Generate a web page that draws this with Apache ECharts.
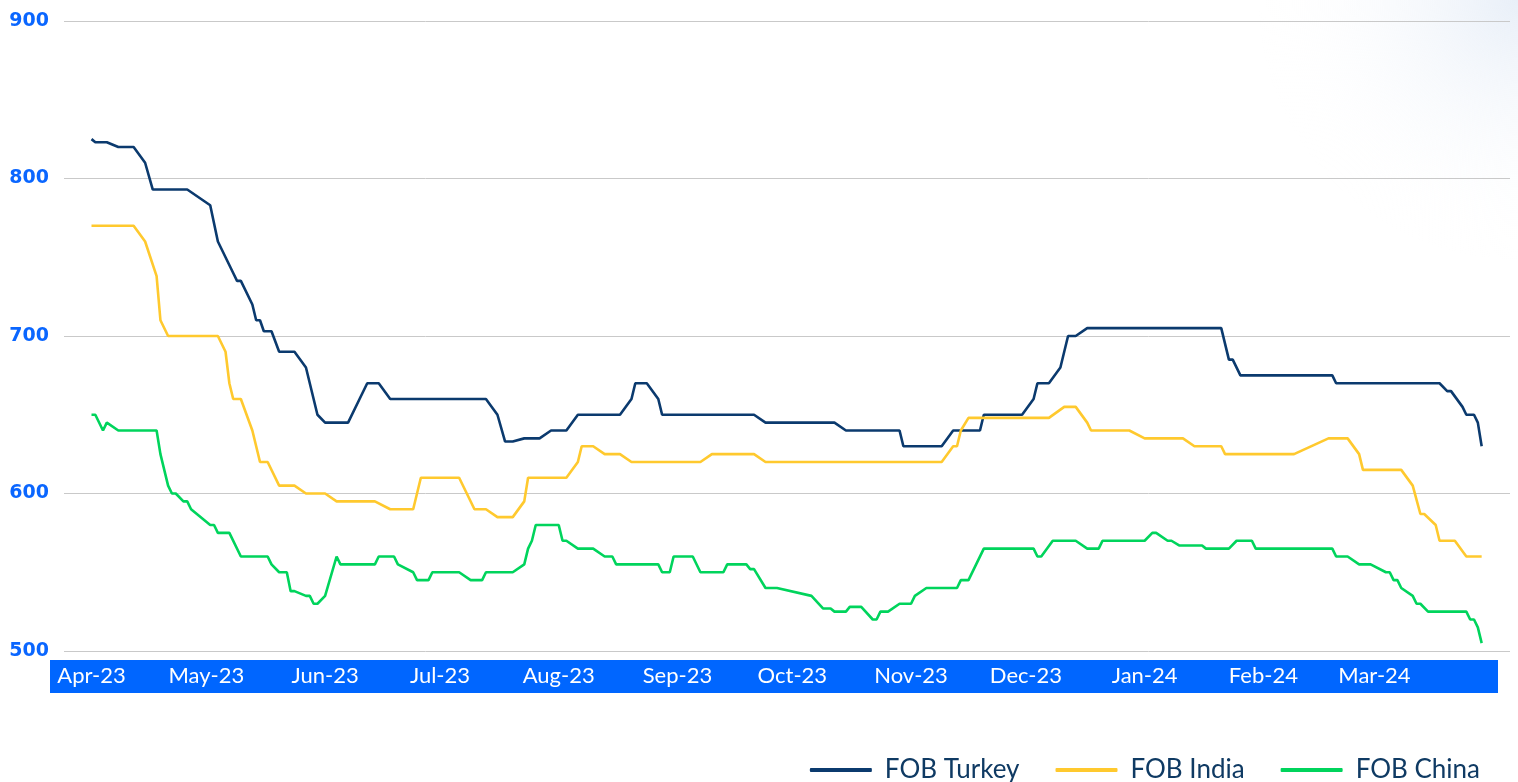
<!DOCTYPE html>
<html>
<head>
<meta charset="utf-8">
<script src="https://cdn.jsdelivr.net/npm/echarts@6/dist/echarts.min.js"></script>
<style>
html,body{margin:0;padding:0;background:#ffffff;}
#chart{width:1518px;height:782px;}
</style>
</head>
<body>
<div id="chart"></div>
<script>
// ---- Data ----
const seriesNames = ['FOB Turkey', 'FOB India', 'FOB China'];

const monthTicks = ['2023-04-01','2023-05-01','2023-06-01','2023-07-01','2023-08-01','2023-09-01',
  '2023-10-01','2023-11-01','2023-12-01','2024-01-01','2024-02-01','2024-03-01'];
const monthNames = ['Jan','Feb','Mar','Apr','May','Jun','Jul','Aug','Sep','Oct','Nov','Dec'];

const yTicks = [500, 600, 700, 800, 900];

const turkeyDates = ['2023-04-01','2023-04-02','2023-04-05','2023-04-08','2023-04-12','2023-04-15','2023-04-17','2023-04-26',
  '2023-05-02','2023-05-04','2023-05-06','2023-05-08','2023-05-09','2023-05-10','2023-05-13','2023-05-14','2023-05-15',
  '2023-05-16','2023-05-18','2023-05-20','2023-05-24','2023-05-27','2023-05-30','2023-06-01','2023-06-07','2023-06-10',
  '2023-06-12','2023-06-15','2023-06-18','2023-07-13','2023-07-16','2023-07-18','2023-07-20','2023-07-23','2023-07-27',
  '2023-07-30','2023-08-03','2023-08-06','2023-08-17','2023-08-20','2023-08-21','2023-08-24','2023-08-27','2023-08-28',
  '2023-09-21','2023-09-24','2023-10-12','2023-10-15','2023-10-29','2023-10-30','2023-11-09','2023-11-12','2023-11-19',
  '2023-11-20','2023-11-30','2023-12-03','2023-12-04','2023-12-07','2023-12-10','2023-12-12','2023-12-14','2023-12-17',
  '2024-01-21','2024-01-23','2024-01-24','2024-01-26','2024-02-19','2024-02-20','2024-03-18','2024-03-20','2024-03-21',
  '2024-03-24','2024-03-25','2024-03-27','2024-03-28','2024-03-29'];
const turkeyValues = [825,823,823,820,820,810,793,793,
  783,760,750,740,735,735,720,710,710,
  703,703,690,690,680,650,645,645,660,
  670,670,660,660,650,633,633,635,635,
  640,640,650,650,660,670,670,660,650,
  650,645,645,640,640,630,630,640,640,
  650,650,660,670,670,680,700,700,705,
  705,685,685,675,675,670,670,665,665,
  655,650,650,645,630];

const indiaDates = ['2023-04-01','2023-04-12','2023-04-15','2023-04-18','2023-04-19','2023-04-21','2023-05-04','2023-05-06',
  '2023-05-07','2023-05-08','2023-05-10','2023-05-13','2023-05-15','2023-05-17','2023-05-20','2023-05-24','2023-05-27',
  '2023-06-01','2023-06-04','2023-06-14','2023-06-18','2023-06-24','2023-06-26','2023-07-06','2023-07-08','2023-07-10',
  '2023-07-13','2023-07-16','2023-07-20','2023-07-23','2023-07-24','2023-08-03','2023-08-06','2023-08-07','2023-08-10',
  '2023-08-13','2023-08-17','2023-08-20','2023-09-07','2023-09-10','2023-09-21','2023-09-24','2023-11-09','2023-11-12',
  '2023-11-13','2023-11-14','2023-11-16','2023-12-07','2023-12-11','2023-12-14','2023-12-17','2023-12-18','2023-12-28',
  '2024-01-01','2024-01-11','2024-01-14','2024-01-21','2024-01-22','2024-02-09','2024-02-18','2024-02-23','2024-02-26',
  '2024-02-27','2024-03-08','2024-03-11','2024-03-13','2024-03-14','2024-03-17','2024-03-18','2024-03-22','2024-03-25',
  '2024-03-29'];
const indiaValues = [770,770,760,738,710,700,700,690,
  670,660,660,640,620,620,605,605,600,
  600,595,595,590,590,610,610,600,590,
  590,585,585,595,610,610,620,630,630,
  625,625,620,620,625,625,620,620,630,
  630,640,648,648,655,655,645,640,640,
  635,635,630,630,625,625,635,635,625,
  615,615,605,587,587,580,570,570,560,
  560];

const chinaDates = ['2023-04-01','2023-04-02','2023-04-04','2023-04-05','2023-04-08','2023-04-18','2023-04-19','2023-04-21',
  '2023-04-22','2023-04-23','2023-04-25','2023-04-26','2023-04-27','2023-05-02','2023-05-03','2023-05-04','2023-05-07',
  '2023-05-10','2023-05-17','2023-05-18','2023-05-20','2023-05-22','2023-05-23','2023-05-24','2023-05-27','2023-05-28',
  '2023-05-29','2023-05-30','2023-06-01','2023-06-04','2023-06-05','2023-06-14','2023-06-15','2023-06-19','2023-06-20',
  '2023-06-24','2023-06-25','2023-06-28','2023-06-29','2023-07-06','2023-07-09','2023-07-12','2023-07-13','2023-07-20',
  '2023-07-23','2023-07-24','2023-07-25','2023-07-26','2023-08-01','2023-08-02','2023-08-03','2023-08-06','2023-08-10',
  '2023-08-13','2023-08-15','2023-08-16','2023-08-27','2023-08-28','2023-08-30','2023-08-31','2023-09-05','2023-09-07',
  '2023-09-13','2023-09-14','2023-09-19','2023-09-20','2023-09-21','2023-09-24','2023-09-27','2023-10-06','2023-10-09',
  '2023-10-11','2023-10-12','2023-10-15','2023-10-16','2023-10-19','2023-10-22','2023-10-23','2023-10-24','2023-10-26',
  '2023-10-29','2023-11-01','2023-11-02','2023-11-05','2023-11-13','2023-11-14','2023-11-16','2023-11-20','2023-12-03',
  '2023-12-04','2023-12-05','2023-12-08','2023-12-14','2023-12-17','2023-12-20','2023-12-21','2024-01-01','2024-01-03',
  '2024-01-04','2024-01-07','2024-01-08','2024-01-10','2024-01-16','2024-01-17','2024-01-23','2024-01-25','2024-01-29',
  '2024-01-30','2024-02-19','2024-02-20','2024-02-23','2024-02-26','2024-02-29','2024-03-04','2024-03-05','2024-03-06',
  '2024-03-07','2024-03-08','2024-03-11','2024-03-12','2024-03-13','2024-03-15','2024-03-25','2024-03-26','2024-03-27',
  '2024-03-28','2024-03-29'];
const chinaValues = [650,650,640,645,640,640,625,605,
  600,600,595,595,590,580,580,575,575,
  560,560,555,550,550,538,538,535,535,
  530,530,535,560,555,555,560,560,555,
  550,545,545,550,550,545,545,550,550,
  555,565,570,580,580,570,570,565,565,
  560,560,555,555,550,550,560,560,550,
  550,555,555,552,552,540,540,535,527,
  527,525,525,528,528,520,520,525,525,
  530,530,535,540,540,545,545,565,565,
  560,560,570,570,565,565,570,570,575,
  575,570,570,567,567,565,565,570,570,
  565,565,560,560,555,555,550,550,545,
  545,540,535,530,530,525,525,520,520,
  515,505];

// ---- helpers ----
function toTime(s) {
  const p = s.split('-').map(Number);
  return new Date(p[0], p[1] - 1, p[2]).getTime();
}
function zip(dates, values) {
  return dates.map((d, i) => [toTime(d), values[i]]);
}
function monthLabel(v) {
  const d = new Date(v);
  return monthNames[d.getMonth()] + '-' + String(d.getFullYear()).slice(2);
}

const tickTimes = monthTicks.map(toTime);
const colors = ['#0B3A6E', '#FFC92E', '#00D45C'];
const FONT = 'Lato, "Noto Sans", sans-serif';

const chart = echarts.init(document.getElementById('chart'), null, { renderer: 'canvas' });

const option = {
  animation: false,
  color: colors,
  grid: { left: 64, right: 8, top: 21, bottom: 131, containLabel: false },
  graphic: [
    {
      type: 'circle', z: -2, silent: true,
      shape: { cx: 1518, cy: 0, r: 260 },
      style: {
        fill: {
          type: 'radial', x: 0.5, y: 0.5, r: 0.5,
          colorStops: [
            { offset: 0, color: 'rgba(214,226,242,0.55)' },
            { offset: 1, color: 'rgba(255,255,255,0)' }
          ]
        }
      }
    },
    {
      type: 'rect', z: -1, silent: true,
      shape: { x: 50, y: 660, width: 1448, height: 33 },
      style: { fill: '#0066FF' }
    }
  ],
  xAxis: {
    type: 'value',
    min: new Date(2023, 2, 24, 19, 40).getTime(),
    max: new Date(2024, 3, 5, 9, 36).getTime(),
    axisLine: { show: false },
    axisTick: { show: false },
    splitLine: { show: false },
    axisLabel: {
      customValues: tickTimes,
      formatter: monthLabel,
      color: '#ffffff',
      fontFamily: FONT,
      fontSize: 22,
      margin: 14,
      hideOverlap: false
    }
  },
  yAxis: {
    type: 'value',
    min: 500,
    max: 900,
    interval: 100,
    axisLine: { show: false },
    axisTick: { show: false },
    splitLine: { show: true, lineStyle: { color: '#c9c9c9', width: 1 } },
    axisLabel: {
      customValues: yTicks,
      color: '#0A66FF',
      fontFamily: '"DejaVu Sans", sans-serif',
      fontWeight: 'bold',
      fontSize: 19,
      margin: 15
    }
  },
  legend: {
    right: 33,
    top: 752,
    itemWidth: 62,
    itemHeight: 4,
    itemGap: 36,
    icon: 'roundRect',
    textStyle: {
      color: '#0F3A63',
      fontFamily: FONT,
      fontSize: 26,
      padding: [0, 0, 0, 8]
    },
    data: seriesNames
  },
  series: [
    { name: seriesNames[0], type: 'line', data: zip(turkeyDates, turkeyValues), showSymbol: false, lineStyle: { width: 2.6, color: colors[0] }, itemStyle: { color: colors[0] } },
    { name: seriesNames[1], type: 'line', data: zip(indiaDates, indiaValues), showSymbol: false, lineStyle: { width: 2.6, color: colors[1] }, itemStyle: { color: colors[1] } },
    { name: seriesNames[2], type: 'line', data: zip(chinaDates, chinaValues), showSymbol: false, lineStyle: { width: 2.6, color: colors[2] }, itemStyle: { color: colors[2] } }
  ]
};
chart.setOption(option);
</script>
</body>
</html>
